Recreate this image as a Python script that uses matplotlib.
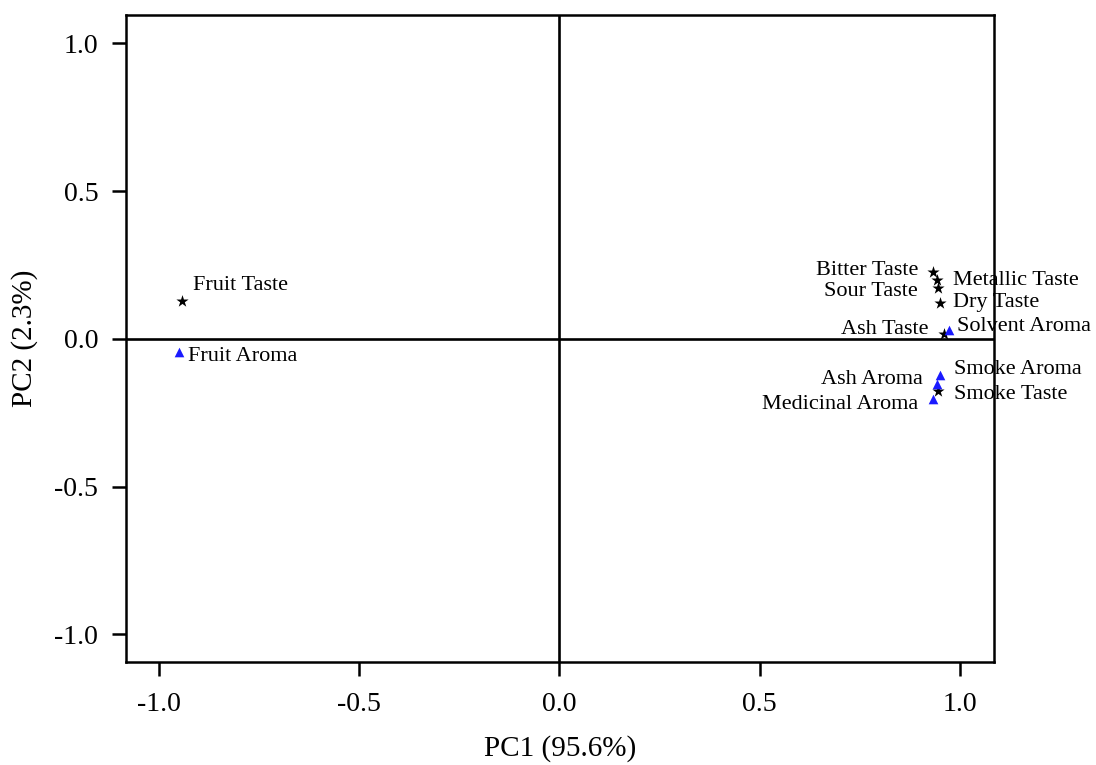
import numpy as np
import matplotlib
matplotlib.use("Agg")
import matplotlib.pyplot as plt

plt.rcParams['font.family'] = ['Liberation Serif', 'DejaVu Serif']

# PCA loadings
taste_names = ['Fruit Taste', 'Bitter Taste', 'Metallic Taste', 'Sour Taste',
               'Dry Taste', 'Ash Taste', 'Smoke Taste']
taste_pc1 = [-0.943, 0.933, 0.943, 0.945, 0.950, 0.960, 0.945]
taste_pc2 = [0.129, 0.226, 0.199, 0.172, 0.122, 0.017, -0.176]

aroma_names = ['Fruit Aroma', 'Solvent Aroma', 'Smoke Aroma', 'Ash Aroma',
               'Medicinal Aroma']
aroma_pc1 = [-0.950, 0.973, 0.950, 0.943, 0.933]
aroma_pc2 = [-0.043, 0.030, -0.122, -0.152, -0.203]

# label offsets in pixels (dx, dy, alignment)
taste_off = [(11, 15, 'left'), (-15, 2, 'right'), (16, 0, 'left'), (-20, -4, 'right'),
             (13, 0, 'left'), (-16, 4, 'right'), (16, -4, 'left')]
aroma_off = [(9, -5, 'left'), (8, 3, 'left'), (14, 5, 'left'), (-14, 4, 'right'),
             (-15, -6, 'right')]

fig = plt.figure(figsize=(10.96, 7.65), dpi=100)
ax = fig.add_axes([0.115, 0.135, 0.792, 0.845])

ax.axhline(0, color='black', lw=1.9, zorder=1)
ax.axvline(0, color='black', lw=1.9, zorder=1)

ax.scatter(taste_pc1, taste_pc2, marker='*', s=85, color='black', zorder=3, linewidths=0)
ax.scatter(aroma_pc1, aroma_pc2, marker='^', s=48, color='#1a1aff', zorder=3, linewidths=0)

for name, x, y, (dx, dy, ha) in zip(taste_names, taste_pc1, taste_pc2, taste_off):
    ax.annotate(name, (x, y), xytext=(dx, dy), textcoords='offset pixels',
                ha=ha, va='center', fontsize=16)
for name, x, y, (dx, dy, ha) in zip(aroma_names, aroma_pc1, aroma_pc2, aroma_off):
    ax.annotate(name, (x, y), xytext=(dx, dy), textcoords='offset pixels',
                ha=ha, va='center', fontsize=16)

ax.set_xlim(-1.082, 1.085)
ax.set_ylim(-1.093, 1.095)
ax.set_xticks([-1.0, -0.5, 0.0, 0.5, 1.0])
ax.set_yticks([-1.0, -0.5, 0.0, 0.5, 1.0])
ax.xaxis.set_major_formatter(matplotlib.ticker.FormatStrFormatter('%.1f'))
ax.yaxis.set_major_formatter(matplotlib.ticker.FormatStrFormatter('%.1f'))
ax.tick_params(direction='out', length=10, width=1.8, labelsize=20)
ax.tick_params(axis='x', pad=12)
ax.tick_params(axis='y', pad=10)
for sp in ax.spines.values():
    sp.set_linewidth(1.8)

ax.set_xlabel('PC1 (95.6%)', fontsize=21, labelpad=13)
ax.set_ylabel('PC2 (2.3%)', fontsize=21, labelpad=12)

fig.savefig('out.png', dpi=100)
